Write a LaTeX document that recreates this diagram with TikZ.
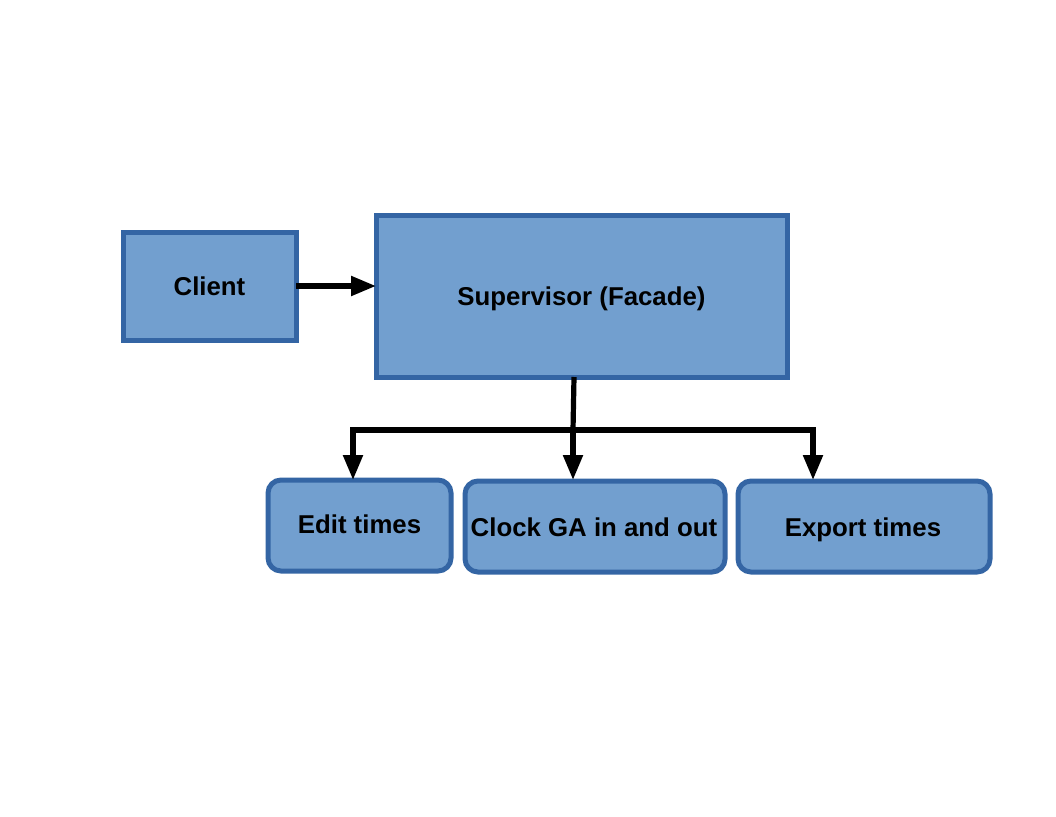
\documentclass[tikz,border=0pt]{standalone}
\usepackage{fontspec}
\setmainfont{Liberation Sans}
\usetikzlibrary{arrows.meta}
\definecolor{boxfill}{HTML}{729FCF}
\definecolor{boxline}{HTML}{3465A4}
\tikzset{
  sqbox/.style={draw=boxline, fill=boxfill, line width=5pt},
  rbox/.style={sqbox, rounded corners=13pt},
  lbl/.style={font=\bfseries\fontsize{25.8}{30}\selectfont, inner sep=0pt, anchor=base},
  conn/.style={line width=5.2pt, draw=black},
  tip/.style={-{Triangle[length=25pt,width=19pt]}}
}
\begin{document}
\begin{tikzpicture}[x=1pt,y=-1pt]
\useasboundingbox (0,0) rectangle (1056,816);
\draw[sqbox] (123,232) rectangle (296,340);
\node[lbl] (client) at (209.5,295) {Client};
\draw[sqbox] (376,215) rectangle (787,377);
\node[lbl] (sup) at (581.5,305) {Supervisor (Facade)};
\draw[rbox] (268,480) rectangle (451,571);
\node[lbl] (edit) at (359.5,533.5) {Edit times};
\draw[rbox] (465,481) rectangle (725,572);
\node[lbl] (clock) at (594,536) {Clock GA in and out};
\draw[rbox] (738,481) rectangle (990,572);
\node[lbl] (export) at (863,536) {Export times};
\coordinate (c1) at (296,286);
\coordinate (c2) at (376,286);
\coordinate (s0) at (574,377);
\coordinate (j) at (573,430);
\coordinate (l) at (353,430);
\coordinate (r) at (813,430);
\coordinate (e) at (353,480);
\coordinate (c) at (573,480);
\coordinate (x) at (813,480);
\draw[conn,tip] (c1) -- (c2);
\draw[conn] (s0) -- (j);
\draw[conn,tip] (j) -- (l) -- (e);
\draw[conn,tip] (j) -- (c);
\draw[conn,tip] (j) -- (r) -- (x);
\end{tikzpicture}
\end{document}
